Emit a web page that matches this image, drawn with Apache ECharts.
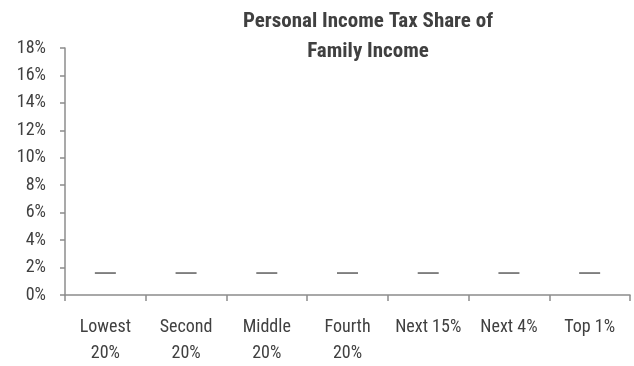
<!DOCTYPE html>
<html><head><meta charset="utf-8">
<script src="https://cdn.jsdelivr.net/npm/echarts@6/dist/echarts.min.js"></script>
<style>html,body{margin:0;padding:0;background:#fff}#c{width:634px;height:366px}</style>
</head><body><div id="c"></div>
<script>
const categories = ["Lowest\n20%", "Second\n20%", "Middle\n20%", "Fourth\n20%", "Next 15%", "Next 4%", "Top 1%"];
const taxShare = [1.6, 1.6, 1.6, 1.6, 1.6, 1.6, 1.6];
const yTicks = [0, 2, 4, 6, 8, 10, 12, 14, 16, 18];
const titleText = "Personal Income Tax Share of\nFamily Income";
const FONT = "'Roboto Condensed', 'Liberation Sans Narrow', 'Liberation Sans', sans-serif";
const chart = echarts.init(document.getElementById('c'), null, {renderer: 'canvas'});
chart.setOption({
  animation: false,
  backgroundColor: '#fff',
  title: {
    text: titleText, left: 363, top: 2, textAlign: 'center',
    textStyle: {fontFamily: FONT, fontWeight: 'bold', fontSize: 21, color: '#404040', lineHeight: 29.5}
  },
  grid: {left: 65, right: 4, top: 48, bottom: 69, containLabel: false},
  xAxis: {
    type: 'category', data: categories, boundaryGap: true,
    axisLine: {lineStyle: {color: '#8c8c8c', width: 1.5}},
    axisTick: {show: true, length: 6, alignWithLabel: false, lineStyle: {color: '#8c8c8c', width: 1.5}},
    axisLabel: {interval: 0, margin: 19, fontFamily: FONT, fontSize: 18, color: '#404040', lineHeight: 26}
  },
  yAxis: {
    type: 'value', min: yTicks[0], max: yTicks[yTicks.length - 1], interval: 2,
    splitLine: {show: false},
    axisLine: {show: true, lineStyle: {color: '#8c8c8c', width: 1.5}},
    axisTick: {show: true, length: 5, lineStyle: {color: '#8c8c8c', width: 1.5}},
    axisLabel: {margin: 19, fontFamily: FONT, fontSize: 18, color: '#404040', formatter: v => v + '%'}
  },
  series: [{
    type: 'scatter', data: taxShare, symbol: 'rect', symbolSize: [21, 1.5],
    itemStyle: {color: '#333333'}
  }]
});
</script></body></html>
